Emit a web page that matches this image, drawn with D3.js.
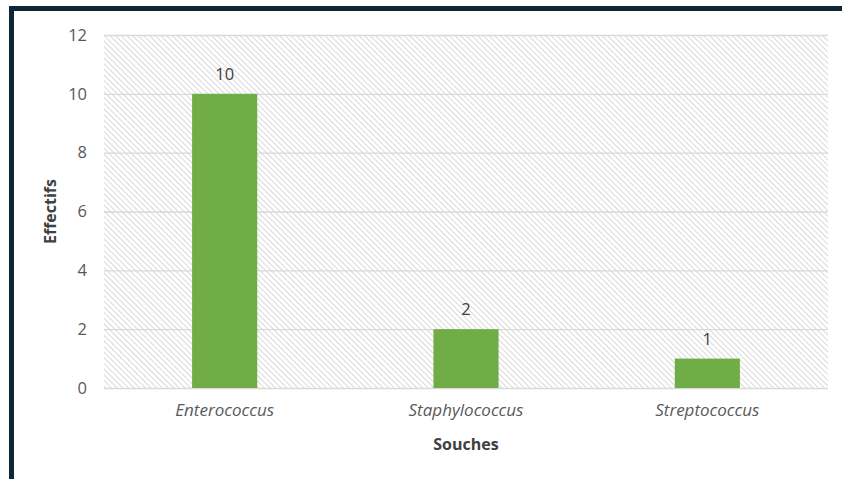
<!DOCTYPE html>
<html>
<head>
<meta charset="utf-8">
<script src="https://cdn.jsdelivr.net/npm/d3@7"></script>
<style>
  html, body { margin: 0; padding: 0; background: #ffffff; }
  svg { display: block; }
</style>
</head>
<body>
<svg id="chart" width="842" height="479"></svg>
<script>
// Strain counts
const categories = ["Enterococcus", "Staphylococcus", "Streptococcus"];
const counts = [10, 2, 1];
const yTicks = [0, 2, 4, 6, 8, 10, 12];
const xTitle = "Souches";
const yTitle = "Effectifs";

const W = 842, H = 479;
const plot = { left: 104, right: 828, top: 35, bottom: 388 };
const font = "'Open Sans', 'Liberation Sans', sans-serif";

const svg = d3.select("#chart");

// Frame around the figure (top and left edges visible)
svg.append("rect")
  .attr("x", 11.5).attr("y", 8.5)
  .attr("width", W + 20).attr("height", H + 20)
  .attr("fill", "#ffffff")
  .attr("stroke", "#0e2736")
  .attr("stroke-width", 5);

// Diagonal hatch used as the plot-area fill
const defs = svg.append("defs");
const pat = defs.append("pattern")
  .attr("id", "hatch")
  .attr("patternUnits", "userSpaceOnUse")
  .attr("width", 4).attr("height", 4)
  .attr("patternTransform", "rotate(-45)");
pat.append("rect").attr("width", 4).attr("height", 4).attr("fill", "#ffffff");
pat.append("line")
  .attr("x1", 0).attr("y1", 0).attr("x2", 0).attr("y2", 4)
  .attr("stroke", "#d2d2d2").attr("stroke-width", 1.7);

const x = d3.scaleBand()
  .domain(categories)
  .range([plot.left, plot.right])
  .paddingInner(0.73)
  .paddingOuter(0.365);

const y = d3.scaleLinear()
  .domain([0, 12])
  .range([plot.bottom, plot.top]);

svg.append("rect")
  .attr("x", plot.left).attr("y", plot.top)
  .attr("width", plot.right - plot.left)
  .attr("height", plot.bottom - plot.top)
  .attr("fill", "url(#hatch)");

// Horizontal gridlines and y tick labels
const yAxis = d3.axisLeft(y)
  .tickValues(yTicks)
  .tickSize(-(plot.right - plot.left))
  .tickPadding(17);
const gy = svg.append("g")
  .attr("transform", `translate(${plot.left},0)`)
  .call(yAxis);
gy.select(".domain").remove();
gy.selectAll(".tick line").attr("stroke", "#d9d9d9").attr("stroke-width", 1.3);
gy.selectAll(".tick text")
  .attr("fill", "#595959")
  .style("font-family", font)
  .style("font-size", "16.5px");

// Bars
svg.append("g").selectAll("rect")
  .data(categories)
  .join("rect")
  .attr("x", d => x(d))
  .attr("width", x.bandwidth())
  .attr("y", (d, i) => y(counts[i]))
  .attr("height", (d, i) => y(0) - y(counts[i]))
  .attr("fill", "#70ad47");

// Value labels
svg.append("g").selectAll("text")
  .data(categories)
  .join("text")
  .attr("x", d => x(d) + x.bandwidth() / 2)
  .attr("y", (d, i) => y(counts[i]) - 14)
  .attr("text-anchor", "middle")
  .attr("fill", "#404040")
  .style("font-family", font)
  .style("font-size", "16.5px")
  .text((d, i) => counts[i]);

// Category axis
const xAxis = d3.axisBottom(x).tickSize(0).tickPadding(16);
const gx = svg.append("g")
  .attr("transform", `translate(0,${plot.bottom})`)
  .call(xAxis);
gx.select(".domain").remove();
gx.selectAll(".tick text")
  .attr("fill", "#595959")
  .style("font-family", font)
  .style("font-size", "17px")
  .style("font-style", "italic");

// Axis titles
svg.append("text")
  .attr("x", (plot.left + plot.right) / 2)
  .attr("y", 450)
  .attr("text-anchor", "middle")
  .attr("fill", "#404040")
  .style("font-family", font)
  .style("font-size", "16px")
  .style("font-weight", "bold")
  .text(xTitle);

svg.append("text")
  .attr("transform", `translate(56,${(plot.top + plot.bottom) / 2}) rotate(-90)`)
  .attr("text-anchor", "middle")
  .attr("fill", "#404040")
  .style("font-family", font)
  .style("font-size", "16px")
  .style("font-weight", "bold")
  .text(yTitle);
</script>
</body>
</html>
